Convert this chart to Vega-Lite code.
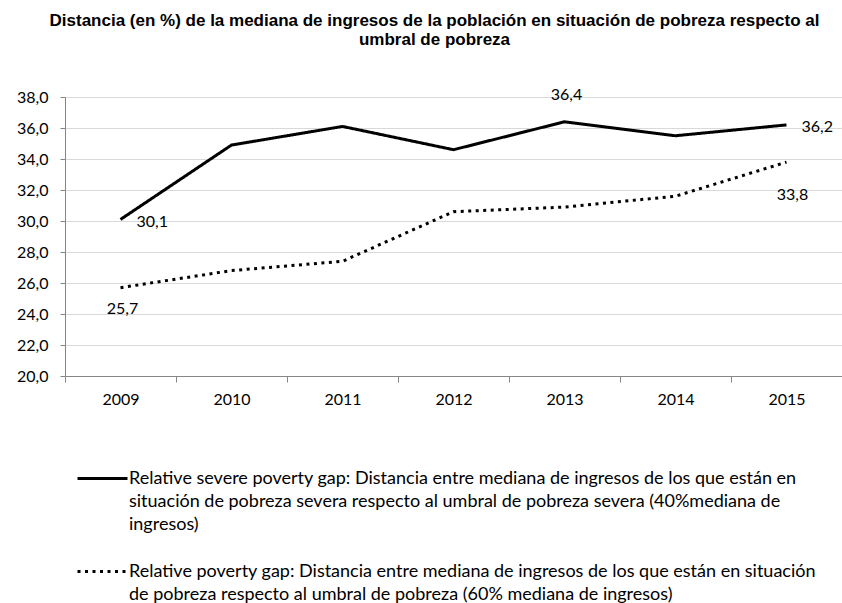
{
  "$schema": "https://vega.github.io/schema/vega-lite/v6.json",
  "width": 777,
  "height": 279,
  "autosize": {"type": "none"},
  "padding": {"left": 65, "top": 97, "right": 0, "bottom": 227},
  "config": {
    "locale": {"number": {"decimal": ",", "thousands": ".", "grouping": [3], "currency": ["", "€"]}},
    "view": {"stroke": null},
    "font": "Lato"
  },
  "title": {
    "text": ["Distancia  (en %) de la mediana de ingresos de la población en situación de pobreza respecto al", "umbral de pobreza"],
    "font": "Liberation Sans",
    "fontSize": 17,
    "fontWeight": "bold",
    "color": "black",
    "anchor": "middle",
    "dx": -19,
    "offset": 38,
    "lineHeight": 19
  },
  "data": {
    "values": [
      {"year": "2009", "value": 30.1, "series": "sev"},
      {"year": "2010", "value": 34.9, "series": "sev"},
      {"year": "2011", "value": 36.1, "series": "sev"},
      {"year": "2012", "value": 34.6, "series": "sev"},
      {"year": "2013", "value": 36.4, "series": "sev"},
      {"year": "2014", "value": 35.5, "series": "sev"},
      {"year": "2015", "value": 36.2, "series": "sev"},
      {"year": "2009", "value": 25.7, "series": "rel"},
      {"year": "2010", "value": 26.8, "series": "rel"},
      {"year": "2011", "value": 27.4, "series": "rel"},
      {"year": "2012", "value": 30.6, "series": "rel"},
      {"year": "2013", "value": 30.9, "series": "rel"},
      {"year": "2014", "value": 31.6, "series": "rel"},
      {"year": "2015", "value": 33.8, "series": "rel"}
    ]
  },
  "encoding": {
    "x": {
      "field": "year",
      "type": "ordinal",
      "bandPosition": 0.5,
      "scale": {"type": "band", "paddingInner": 0, "paddingOuter": 0},
      "axis": {
        "title": null,
        "labelAngle": 0,
        "tickBand": "extent",
        "domainColor": "#868686",
        "tickColor": "#868686",
        "tickSize": 6,
        "labelFontSize": 16,
        "labelColor": "black",
        "labelPadding": 9,
        "grid": false
      }
    },
    "y": {
      "field": "value",
      "type": "quantitative",
      "scale": {"domain": [20, 38], "nice": false, "zero": false},
      "axis": {
        "title": null,
        "values": [20, 22, 24, 26, 28, 30, 32, 34, 36, 38],
        "format": ".1f",
        "gridColor": "#d9d9d9",
        "domainColor": "#868686",
        "tickColor": "#868686",
        "tickSize": 5,
        "labelFontSize": 16,
        "labelColor": "black",
        "labelPadding": 12
      }
    }
  },
  "layer": [
    {
      "mark": {"type": "line", "strokeWidth": 3, "color": "black"},
      "encoding": {
        "strokeDash": {
          "field": "series",
          "type": "nominal",
          "scale": {"domain": ["sev", "rel"], "range": [[1, 0], [3, 4.5]]},
          "legend": {
            "title": null,
            "orient": "none",
            "legendX": 11,
            "legendY": 355,
            "symbolType": "stroke",
            "symbolSize": 2500,
            "symbolStrokeWidth": 3,
            "symbolStrokeColor": "black",
            "labelFontSize": 18,
            "labelFont": "Lato",
            "labelColor": "black",
            "labelLimit": 0,
            "labelBaseline": "top",
            "labelOffset": 0,
            "rowPadding": 11,
            "encode": {
              "labels": {"update": {"lineHeight": {"value": 23}, "dy": {"value": -9}}}
            },
            "labelExpr": "datum.value == 'sev' ? ['Relative severe poverty gap: Distancia entre mediana de ingresos de los que están en', 'situación de pobreza severa respecto al umbral de pobreza severa (40%mediana de', 'ingresos)'] : ['Relative poverty gap: Distancia entre mediana de ingresos de los que están en situación', 'de pobreza respecto al umbral de pobreza (60% mediana de ingresos)']"
          }
        }
      }
    },
    {
      "transform": [{"filter": "datum.series == 'sev' && datum.year == '2009'"}],
      "mark": {"type": "text", "fontSize": 16, "align": "left", "dx": 16, "dy": 3, "font": "Lato"},
      "encoding": {"text": {"field": "value", "format": ".1f"}}
    },
    {
      "transform": [{"filter": "datum.series == 'sev' && datum.year == '2013'"}],
      "mark": {"type": "text", "fontSize": 16, "align": "center", "dx": 2, "dy": -27, "font": "Lato"},
      "encoding": {"text": {"field": "value", "format": ".1f"}}
    },
    {
      "transform": [{"filter": "datum.series == 'sev' && datum.year == '2015'"}],
      "mark": {"type": "text", "fontSize": 16, "align": "left", "dx": 15, "dy": 2, "font": "Lato"},
      "encoding": {"text": {"field": "value", "format": ".1f"}}
    },
    {
      "transform": [{"filter": "datum.series == 'rel' && datum.year == '2009'"}],
      "mark": {"type": "text", "fontSize": 16, "align": "center", "dx": 2, "dy": 21, "font": "Lato"},
      "encoding": {"text": {"field": "value", "format": ".1f"}}
    },
    {
      "transform": [{"filter": "datum.series == 'rel' && datum.year == '2015'"}],
      "mark": {"type": "text", "fontSize": 16, "align": "center", "dx": 6, "dy": 33, "font": "Lato"},
      "encoding": {"text": {"field": "value", "format": ".1f"}}
    }
  ]
}
